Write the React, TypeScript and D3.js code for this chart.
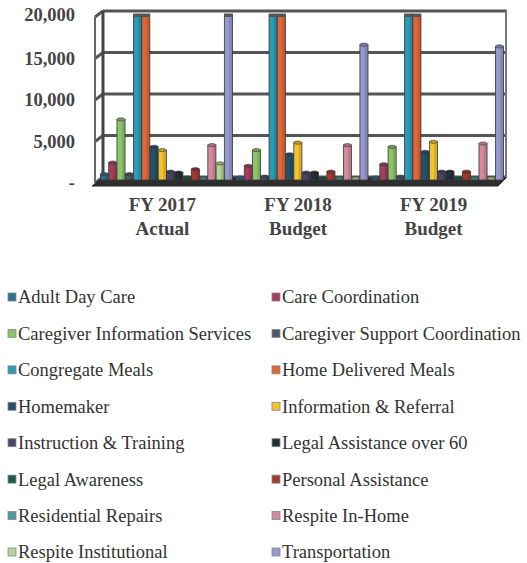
import React from "react";
import * as d3 from "d3";

// category labels (two lines each)
const catYears = ["FY 2017", "FY 2018", "FY 2019"];
const catKinds = ["Actual", "Budget", "Budget"];

const seriesNames = [
  "Adult Day Care",
  "Care Coordination",
  "Caregiver Information Services",
  "Caregiver Support Coordination",
  "Congregate Meals",
  "Home Delivered Meals",
  "Homemaker",
  "Information & Referral",
  "Instruction & Training",
  "Legal Assistance over 60",
  "Legal Awareness",
  "Personal Assistance",
  "Residential Repairs",
  "Respite In-Home",
  "Respite Institutional",
  "Transportation",
];

// values per series: [FY2017, FY2018, FY2019]
const adultDayCare = [700, 300, 300];
const careCoordination = [2100, 1700, 1900];
const caregiverInfo = [7300, 3600, 4000];
const caregiverSupport = [700, 400, 400];
const congregateMeals = [24000, 24000, 24000];
const homeDelivered = [24000, 24000, 24000];
const homemaker = [4000, 3100, 3400];
const infoReferral = [3600, 4500, 4600];
const instruction = [1000, 900, 1000];
const legalAssist = [900, 900, 1000];
const legalAwareness = [300, 200, 200];
const personalAssist = [1300, 1000, 1000];
const residential = [200, 200, 200];
const respiteHome = [4200, 4200, 4400];
const respiteInst = [2000, 200, 200];
const transportation = [21000, 16300, 16100];

const seriesValues = [
  adultDayCare, careCoordination, caregiverInfo, caregiverSupport,
  congregateMeals, homeDelivered, homemaker, infoReferral,
  instruction, legalAssist, legalAwareness, personalAssist,
  residential, respiteHome, respiteInst, transportation,
];

const barColors = [
  "#2b6f8c", "#a33f5c", "#8cc46a", "#4d5766",
  "#2b9bb3", "#e0663a", "#25506a", "#f2c230",
  "#4a4566", "#232d36", "#1c5a4a", "#a33a30",
  "#4e9aa0", "#d48a9c", "#b4d494", "#9898cf",
];

const yTicks = [0, 5000, 10000, 15000, 20000];

const W = 527;
const H = 563;
const FONT = "'Liberation Serif', 'DejaVu Serif', 'Times New Roman', serif";

const App = () => {
  const floorY = 180;
  const y = d3.scaleLinear().domain([0, 20000]).range([floorY, 14]);
  const yBack = (v: number) => y(v) - 3;
  const yFront = (v: number) => y(v) + 3;

  const x0 = d3.scaleBand<string>().domain(catYears).range([100, 504]).paddingInner(0.02).paddingOuter(0);
  const x1 = d3.scaleBand<number>().domain(d3.range(seriesNames.length)).range([0, x0.bandwidth()]).paddingInner(0.02).paddingOuter(0.05);

  const leftX = 95;
  const wallX = 103;
  const rightX = 506;

  const legendRows = Math.ceil(seriesNames.length / 2);
  const legendY = d3.scalePoint<number>().domain(d3.range(legendRows)).range([297, 552]);

  return (
    <svg width={W} height={H} style={{ position: "absolute", left: 0, top: 0 }}>
      <defs>
        <clipPath id="plotClip">
          <rect x={wallX - 10} y={y(20000) - 2} width={rightX - wallX + 10} height={floorY - y(20000) + 10} />
        </clipPath>
      </defs>

      {/* back wall */}
      <rect x={wallX} y={yBack(20000)} width={rightX - wallX} height={yBack(0) - yBack(20000)} fill="#fff" stroke="#555" strokeWidth={2} />
      {yTicks.map((t) => (
        <g key={"g" + t}>
          <line x1={wallX} x2={rightX} y1={yBack(t)} y2={yBack(t)} stroke="#555" strokeWidth={3} />
          <line x1={leftX} x2={wallX} y1={yFront(t)} y2={yBack(t)} stroke="#555" strokeWidth={3} />
        </g>
      ))}
      {/* side walls */}
      <line x1={leftX} x2={leftX} y1={yFront(20000)} y2={yFront(0)} stroke="#666" strokeWidth={2} />
      <line x1={wallX} x2={wallX} y1={yBack(20000)} y2={yBack(0)} stroke="#444" strokeWidth={3} />
      <line x1={rightX} x2={rightX} y1={yBack(20000)} y2={yBack(0)} stroke="#777" strokeWidth={2} />

      {/* floor */}
      <polygon
        points={`${leftX - 3},${yFront(0) + 3} ${rightX - 8},${yFront(0) + 3} ${rightX},${yBack(0) + 1} ${wallX},${yBack(0) + 1}`}
        fill="#2e2e2e"
        stroke="#222"
      />

      {/* bars */}
      <g clipPath="url(#plotClip)">
        {catYears.map((c, ci) => (
          <g key={c} transform={`translate(${x0(c)},0)`}>
            {seriesValues.map((vals, si) => {
              const v = vals[ci];
              const bx = x1(si) as number;
              const bw = x1.bandwidth();
              const top = Math.max(y(v), y(20000));
              const clipped = v > 20000;
              const fill = barColors[si];
              return (
                <g key={si}>
                  <rect x={bx} y={top} width={bw} height={floorY - top} fill={fill} stroke="#3a3a3a" strokeWidth={0.8} />
                  <rect x={bx + bw * 0.6} y={top} width={bw * 0.4} height={floorY - top} fill="#000" opacity={0.12} />
                  {clipped ? (
                    <rect x={bx} y={top} width={bw} height={3} fill="#555" />
                  ) : (
                    <ellipse cx={bx + bw / 2} cy={top} rx={bw / 2} ry={1.6} fill={d3.color(fill)!.darker(0.6).toString()} stroke="#3a3a3a" strokeWidth={0.6} />
                  )}
                </g>
              );
            })}
          </g>
        ))}
      </g>

      {/* y axis labels */}
      {yTicks.map((t) => (
        <text
          key={"t" + t}
          x={75}
          y={yFront(t) - (t === 20000 ? 2 : 0)}
          dy="0.35em"
          textAnchor="end"
          fontFamily={FONT}
          fontWeight="bold"
          fontSize={18.5}
          fill="#444"
        >
          {t === 0 ? "-" : d3.format(",")(t)}
        </text>
      ))}

      {/* category labels */}
      {catYears.map((c, ci) => {
        const cx = (x0(c) as number) + x0.bandwidth() / 2 - 4;
        return (
          <text key={"c" + c} textAnchor="middle" fontFamily={FONT} fontWeight="bold" fontSize={19} fill="#444">
            <tspan x={cx} y={211}>{c}</tspan>
            <tspan x={cx} y={235}>{catKinds[ci]}</tspan>
          </text>
        );
      })}

      {/* legend */}
      {seriesNames.map((name, i) => {
        const col = i % 2;
        const row = Math.floor(i / 2);
        const lx = col === 0 ? 8 : 272;
        const ly = legendY(row) as number;
        return (
          <g key={name} transform={`translate(${lx},${ly})`}>
            <rect x={0} y={-4} width={8} height={8} fill={barColors[i]} stroke="#888" strokeWidth={0.8} />
            <text x={10} dy="0.35em" fontFamily={FONT} fontSize={18.5} fill="#333">
              {name}
            </text>
          </g>
        );
      })}
    </svg>
  );
};

export default App;
